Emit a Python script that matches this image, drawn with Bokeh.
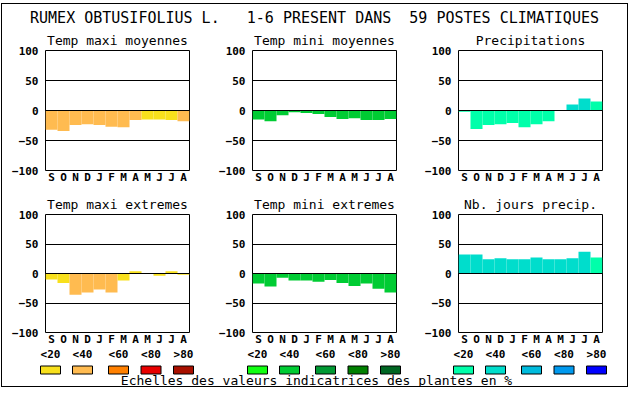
import numpy as np
from bokeh.plotting import figure
from bokeh.layouts import column, row
from bokeh.models import FixedTicker, Range1d
from bokeh.embed import file_html
from bokeh.resources import INLINE
from bokeh.core.properties import value

FONT = "DejaVu Sans Mono"

# ---------------- data ----------------
months = ["S", "O", "N", "D", "J", "F", "M", "A", "M", "J", "J", "A"]
y_ticks = [-100, -50, 0, 50, 100]

tmax_moy = [-32, -34, -24, -23, -24, -27, -28, -16, -15, -15, -16, -18]
tmax_moy_cls = [1, 1, 1, 1, 1, 1, 1, 1, 0, 0, 0, 1]

tmin_moy = [-15, -18, -8, -3, -4, -6, -11, -14, -13, -16, -16, -14]
tmin_moy_cls = [1, 1, 1, 1, 1, 1, 1, 1, 1, 1, 1, 1]

precip = [-2, -31, -24, -23, -21, -28, -23, -18, 0, 10, 20, 15]
precip_cls = [0, 0, 0, 0, 0, 0, 0, 0, 0, 1, 1, 0]

tmax_ext = [-10, -16, -36, -32, -27, -32, -12, 4, 0, -4, 4, -2]
tmax_ext_cls = [0, 0, 1, 1, 1, 1, 0, 0, 0, 0, 0, 0]

tmin_ext = [-17, -22, -7, -12, -12, -14, -11, -16, -21, -17, -26, -32]
tmin_ext_cls = [1, 1, 1, 1, 1, 1, 1, 1, 1, 1, 1, 1]

nb_jours = [32, 32, 24, 26, 24, 24, 27, 24, 24, 26, 37, 27]
nb_jours_cls = [1, 1, 1, 1, 1, 1, 1, 1, 1, 1, 1, 0]

warm = ["#F8E01C", "#FFBB50", "#FF8000", "#E80000", "#A81000"]
green = ["#11FF11", "#00CC33", "#009933", "#008000", "#006622"]
blue = ["#00FFAA", "#00DDCC", "#00BBDD", "#0099EE", "#0000FF"]
legend_labels = ["<20", "<40", "<60", "<80", ">80"]

NB = "\u00a0"
main_title = "RUMEX OBTUSIFOLIUS L." + NB * 3 + "1-6 PRESENT DANS" + NB * 2 + "59 POSTES CLIMATIQUES"
scale_caption = "Echelles des valeurs indicatrices des plantes en %"

panels = [
    ("Temp maxi moyennes", tmax_moy, tmax_moy_cls, warm),
    ("Temp mini moyennes", tmin_moy, tmin_moy_cls, green),
    ("Precipitations", precip, precip_cls, blue),
    ("Temp maxi extremes", tmax_ext, tmax_ext_cls, warm),
    ("Temp mini extremes", tmin_ext, tmin_ext_cls, green),
    ("Nb. jours precip.", nb_jours, nb_jours_cls, blue),
]

# ---------------- layout constants (page pixels) ----------------
INNER_W = 625          # inside the outer frame
BOX_W = 144
BOX_H = 120
col_widths = [207, 207, 211]
col_left_borders = [43, 43, 42]
box_lefts = [43, 250, 456]   # relative to the inner area
swatch_offs = [5, 37, 73, 105.5, 138]
TH = 22                # title strip height
ROW_TOP = [24, 24]
ROW_BOT = [20, 14]
LH = 38                # legend strip height


def make_panel(title, vals, cls, pal, ci, ri):
    bt, bb = ROW_TOP[ri], ROW_BOT[ri]
    wl = col_left_borders[ci]
    p = figure(width=col_widths[ci], height=bt + BOX_H + bb,
               x_range=Range1d(0, 12), y_range=Range1d(-100, 100),
               output_backend="svg", toolbar_location=None,
               min_border_left=wl,
               min_border_right=col_widths[ci] - wl - BOX_W,
               min_border_top=bt, min_border_bottom=bb,
               background_fill_color="white", border_fill_color="white")
    p.title.text = title
    p.title.align = "center"
    p.title.text_font = FONT
    p.title.text_font_size = "13px"
    p.title.text_font_style = "normal"
    p.title.text_color = "black"
    p.title.standoff = 6
    p.title.offset = 0

    xs = np.arange(len(vals)) + 0.5
    colors = [pal[c] for c in cls]
    p.vbar(x=xs, top=vals, bottom=0, width=1.0, fill_color=colors, line_color=None)

    p.outline_line_color = "black"
    p.outline_line_width = 1
    p.outline_line_alpha = 1

    p.xgrid.visible = False
    p.ygrid.ticker = FixedTicker(ticks=[-50, 0, 50])
    p.ygrid.grid_line_color = "black"
    p.ygrid.grid_line_alpha = 1
    p.ygrid.grid_line_width = 1
    p.ygrid.level = "annotation"

    p.yaxis.ticker = FixedTicker(ticks=y_ticks)
    p.yaxis.axis_line_color = None
    p.yaxis.major_tick_out = 0
    p.yaxis.major_tick_in = 0
    p.yaxis.minor_tick_out = 0
    p.yaxis.minor_tick_in = 0
    p.yaxis.major_label_standoff = 7
    p.yaxis.major_label_text_font = FONT
    p.yaxis.major_label_text_font_size = "11px"
    p.yaxis.major_label_text_font_style = "bold"
    p.yaxis.major_label_text_color = "black"

    p.xaxis.ticker = FixedTicker(ticks=list(xs))
    p.xaxis.major_label_overrides = {float(x): m for x, m in zip(xs, months)}
    p.xaxis.axis_line_color = None
    p.xaxis.major_tick_out = 0
    p.xaxis.major_tick_in = 0
    p.xaxis.minor_tick_out = 0
    p.xaxis.minor_tick_in = 0
    p.xaxis.major_label_standoff = 0
    p.xaxis.major_label_text_font = FONT
    p.xaxis.major_label_text_font_size = "11px"
    p.xaxis.major_label_text_font_style = "bold"
    p.xaxis.major_label_text_color = "black"
    return p


def blank(width, height):
    # pixel-like canvas: x from the left, y measured from the bottom
    f = figure(width=width, height=height, x_range=Range1d(0, width),
               y_range=Range1d(0, height), min_border=0,
               output_backend="svg", toolbar_location=None,
               x_axis_location=None, y_axis_location=None,
               background_fill_color="white", border_fill_color="white")
    f.outline_line_color = None
    f.grid.visible = False
    return f


# title strip
tfig = blank(INNER_W, TH)
tfig.text(x=[312], y=[TH - 13], text=[main_title], text_font=value(FONT),
          text_font_size="15px", text_align="center", text_baseline="middle",
          text_color="black")

figs = []
for i, (t, v, c, pal) in enumerate(panels):
    figs.append(make_panel(t, v, c, pal, i % 3, i // 3))

# legend strip
leg = blank(INNER_W, LH)
for ci, pal in enumerate([warm, green, blue]):
    centers = [box_lefts[ci] + o for o in swatch_offs]
    leg.rect(x=centers, y=[LH - 21.5] * 5, width=20, height=8,
             fill_color=pal, line_color="black", line_width=1)
    leg.text(x=centers, y=[LH - 6] * 5, text=legend_labels, text_font=value(FONT),
             text_font_size="11px", text_font_style="bold",
             text_align="center", text_baseline="middle", text_color="black")
leg.text(x=[314], y=[LH - 31.5], text=[scale_caption], text_font=value(FONT),
         text_font_size="13px", text_align="center", text_baseline="middle",
         text_color="black")

layout = column(tfig, row(*figs[:3]), row(*figs[3:]), leg,
                styles={"border": "1px solid black",
                        "box-sizing": "content-box",
                        "margin-left": "1px",
                        "margin-top": "3px",
                        "background-color": "white"})

open("out.html", "w").write(file_html(layout, INLINE))
